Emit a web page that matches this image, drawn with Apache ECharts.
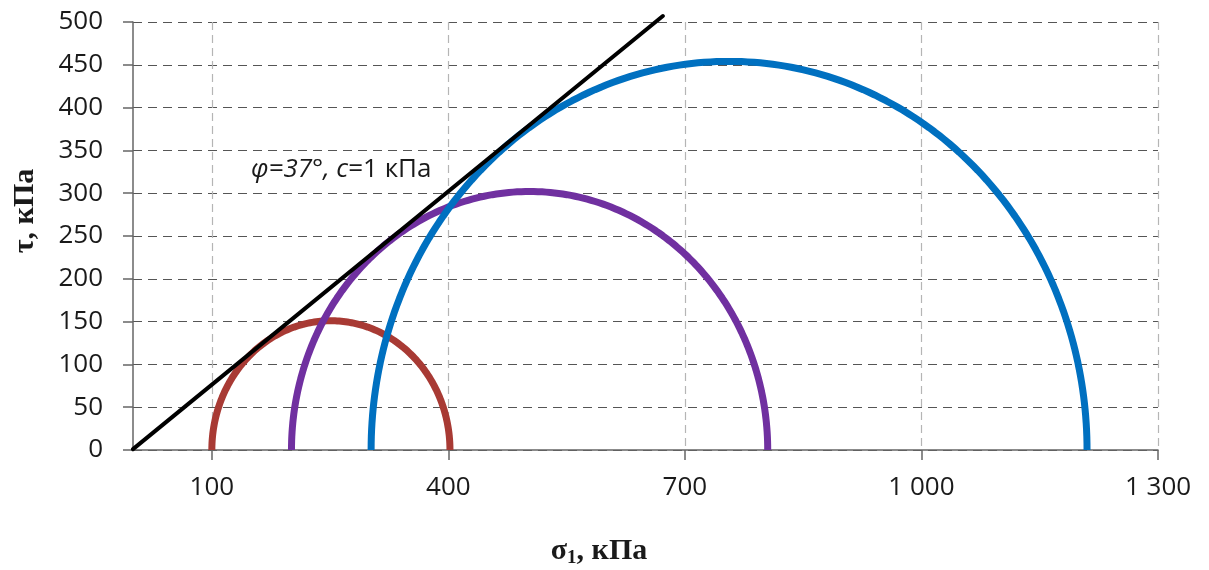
<!DOCTYPE html>
<html><head><meta charset="utf-8">
<script src="https://cdn.jsdelivr.net/npm/echarts@6/dist/echarts.min.js"></script>
<style>html,body{margin:0;padding:0;background:#fff}#c{width:1209px;height:570px}</style>
</head><body><div id="c"></div>
<script>
// ---- data ----
const xTickValues = [100, 400, 700, 1000, 1300];
const yMin = 0, yMax = 500, yStep = 50;
const circleNames = ['Circle 1', 'Circle 2', 'Circle 3'];
const sigma3 = [100, 201, 302];   // left end of each Mohr circle, kPa
const sigma1 = [402, 805, 1210];  // right end of each Mohr circle, kPa
const circleColors = ['#A83A34', '#7030A0', '#0070C0'];
const envelopeSigma = [0, 672];
const envelopeTau = [1, 507];

// Mohr semicircles from their end points (σ3, σ1)
function mohr(s3, s1) {
  const c = (s3 + s1) / 2, r = (s1 - s3) / 2, pts = [];
  for (let k = 0; k <= 180; k++) {
    const t = Math.PI * k / 180;
    pts.push([c - r * Math.cos(t), r * Math.sin(t)]);
  }
  return pts;
}
function fmt(v) { return String(v).replace(/\B(?=(\d{3})+(?!\d))/g, ' '); }

const series = circleNames.map((n, i) => ({
  name: n, type: 'line', data: mohr(sigma3[i], sigma1[i]),
  showSymbol: false, symbol: 'none', clip: false,
  lineStyle: { color: circleColors[i], width: 7 }, z: 2 + i
}));
series.push({
  name: 'envelope', type: 'line',
  data: envelopeSigma.map((s, i) => [s, envelopeTau[i]]),
  showSymbol: false, symbol: 'none', clip: false,
  lineStyle: { color: '#000', width: 4, cap: 'round' }, z: 10
});

const tickFont = { fontFamily: 'Open Sans', fontSize: 26, color: '#1a1a1a' };
const chart = echarts.init(document.getElementById('c'), null, { renderer: 'canvas' });
chart.setOption({
  animation: false,
  backgroundColor: '#fff',
  grid: { left: 133, right: 51, top: 22, bottom: 120, containLabel: false },
  xAxis: {
    type: 'value', min: 0, max: 1300,
    axisLine: { show: true, lineStyle: { color: '#666', width: 1.5 } },
    axisTick: { show: true, customValues: xTickValues, length: 10, lineStyle: { color: '#666', width: 1.5 } },
    axisLabel: Object.assign({ customValues: xTickValues, margin: 25, formatter: v => fmt(v) }, tickFont),
    splitLine: { show: true, lineStyle: { color: '#b5b5b5', type: [8, 5], width: 1.2 } }
  },
  yAxis: {
    type: 'value', min: yMin, max: yMax, interval: yStep,
    axisLine: { show: true, lineStyle: { color: '#666', width: 1.5 } },
    axisTick: { show: true, length: 10, lineStyle: { color: '#666', width: 1.5 } },
    axisLabel: Object.assign({ margin: 30 }, tickFont),
    splitLine: { show: true, lineStyle: { color: '#555', type: [9, 6], width: 1.2 } }
  },
  series: series,
  graphic: [
    {
      type: 'text', left: 251, top: 157, z: 100,
      style: {
        text: '{i|φ=37°, c}{n|=1 кПа}',
        rich: {
          i: { fontFamily: 'Open Sans', fontSize: 26, fontStyle: 'italic', fill: '#1a1a1a' },
          n: { fontFamily: 'Open Sans', fontSize: 26, fill: '#1a1a1a' }
        }
      }
    },
    {
      type: 'text', x: 25, y: 211, rotation: Math.PI / 2, z: 100,
      style: {
        text: 'τ, кПа', fontFamily: 'Liberation Serif', fontWeight: 'bold', fontSize: 30,
        fill: '#1a1a1a', align: 'center', verticalAlign: 'middle'
      }
    },
    {
      type: 'text', x: 599, y: 551, z: 100,
      style: {
        text: '{m|σ}{s|1}{m|, кПа}', align: 'center', verticalAlign: 'middle',
        rich: {
          m: { fontFamily: 'Liberation Serif', fontWeight: 'bold', fontSize: 30, fill: '#1a1a1a' },
          s: { fontFamily: 'Liberation Serif', fontWeight: 'bold', fontSize: 19, fill: '#1a1a1a', padding: [14, 0, 0, 0] }
        }
      }
    }
  ]
});
</script></body></html>
